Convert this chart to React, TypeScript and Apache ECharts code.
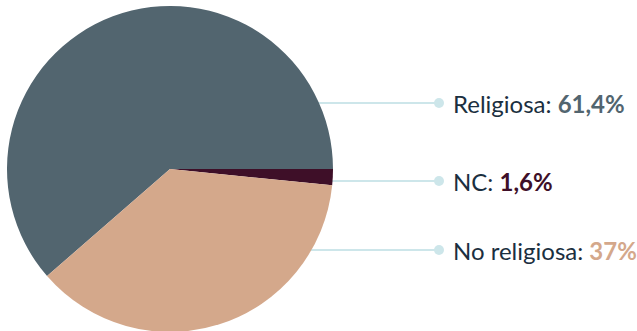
import React, { useEffect, useRef } from "react";
import * as echarts from "echarts";

const categories = ["Religiosa", "NC", "No religiosa"];
const values = [61.4, 1.6, 37];
const valueLabels = ["61,4%", "1,6%", "37%"];
const colors = ["#52656f", "#3e0f28", "#d4a88b"];

const CX = 170;
const CY = 169;
const R = 163;
const LABEL_Y = [103, 181, 250];
const DOT_X = 434;

export default function App() {
  const ref = useRef<HTMLDivElement>(null);
  useEffect(() => {
    document.body.style.margin = "0";
    const chart = echarts.init(ref.current!, null, { renderer: "svg" });
    const rich: any = {
      dot: { width: 10, height: 10, borderRadius: 5, backgroundColor: "#cde6ea" },
      t: { color: "#1b2f40", fontSize: 24, fontFamily: "Lato", padding: [0, 0, 0, 9] },
    };
    colors.forEach((c, i) => {
      rich["v" + i] = { color: c, fontSize: 24, fontWeight: "bold", fontFamily: "Lato" };
    });
    chart.setOption({
      animation: false,
      series: [
        {
          type: "pie",
          center: [CX, CY],
          radius: [0, R],
          startAngle: 221.04,
          clockwise: true,
          data: categories.map((name, i) => ({
            name,
            value: values[i],
            itemStyle: { color: colors[i] },
          })),
          label: {
            show: true,
            overflow: "none",
            formatter: (p: any) =>
              `{dot| }{t|${p.name}: }{v${p.dataIndex}|${valueLabels[p.dataIndex]}}`,
            rich,
          },
          labelLine: {
            show: true,
            smooth: false,
            lineStyle: { color: "#cde6ea", width: 2 },
          },
          labelLayout: (params: any) => {
            const y = LABEL_Y[params.dataIndex];
            const dy = y - CY;
            const ex = CX + Math.sqrt(Math.max(0, R * R - dy * dy)) - 2;
            return {
              x: DOT_X,
              y,
              width: 260,
              align: "left",
              verticalAlign: "middle",
              labelLinePoints: [
                [ex, y],
                [ex + 1, y],
                [DOT_X + 2, y],
              ],
            };
          },
          emphasis: { disabled: true },
        },
      ],
    });
    return () => chart.dispose();
  }, []);
  return <div ref={ref} style={{ width: 637, height: 331 }} />;
}
